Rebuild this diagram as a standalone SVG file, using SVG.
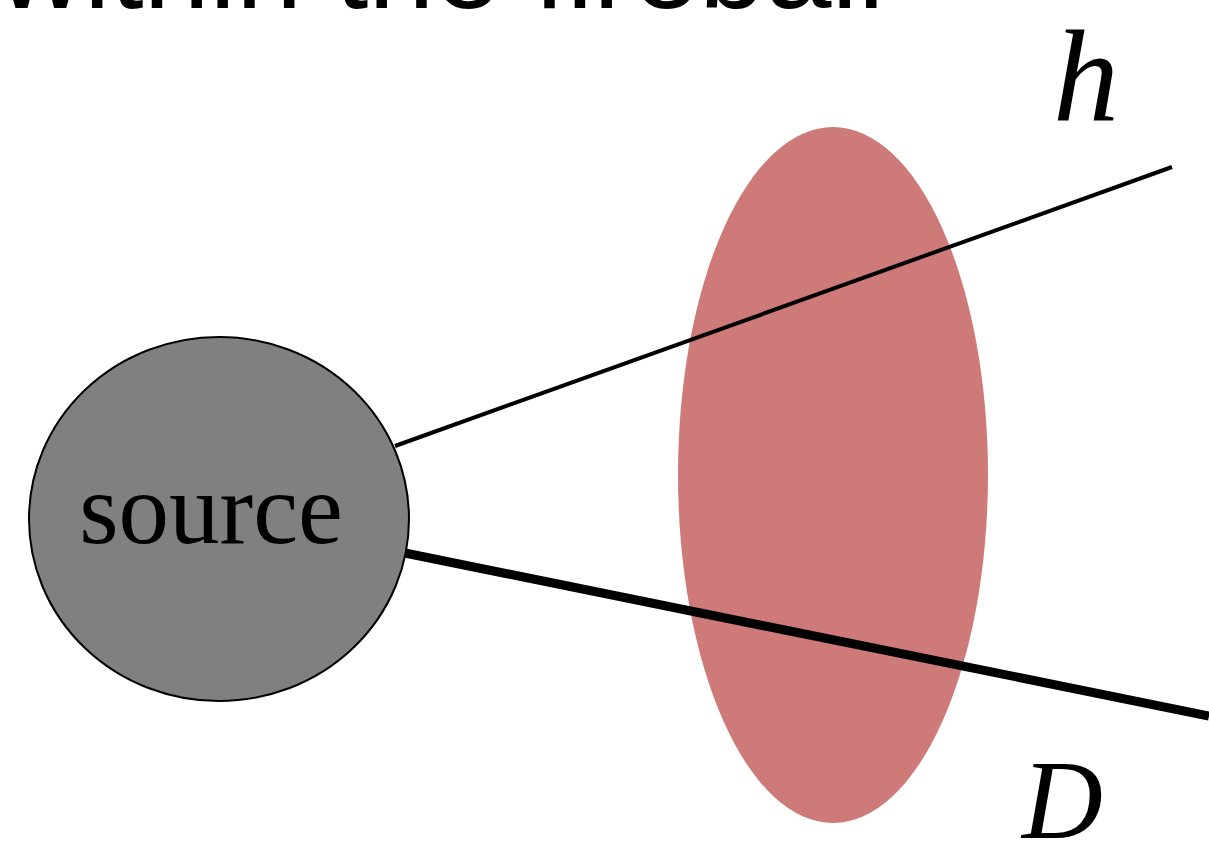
<svg xmlns="http://www.w3.org/2000/svg" width="1209" height="851" viewBox="0 0 1209 851">
<style>
.lbl{font-family:"Liberation Serif",serif;font-style:italic;fill:#000}
.ln{stroke:#000;fill:none}
</style>
<rect width="1209" height="851" fill="#fff"/>
<text x="-2" y="8" font-family="Liberation Sans, Arial, sans-serif" font-size="119" fill="#000">within the fireball</text>
<g id="fireball"><ellipse cx="833" cy="475" rx="155" ry="348" fill="#cd7a78"/></g>
<g id="connectors">
<line class="ln" x1="395" y1="446" x2="1172" y2="167" stroke-width="4"/>
<line class="ln" x1="400" y1="552" x2="1209" y2="716" stroke-width="9"/>
</g>
<g id="source">
<ellipse cx="219" cy="519" rx="190" ry="182" fill="#808080" stroke="#000" stroke-width="2"/>
<text x="211" y="543" text-anchor="middle" font-family="Liberation Serif, serif" font-size="101" fill="#000">source</text>
</g>
<g id="label-h"><text class="lbl" x="1053" y="121" font-size="132">h</text></g>
<g id="label-D"><text class="lbl" x="1022" y="838" font-size="112">D</text></g>
</svg>
